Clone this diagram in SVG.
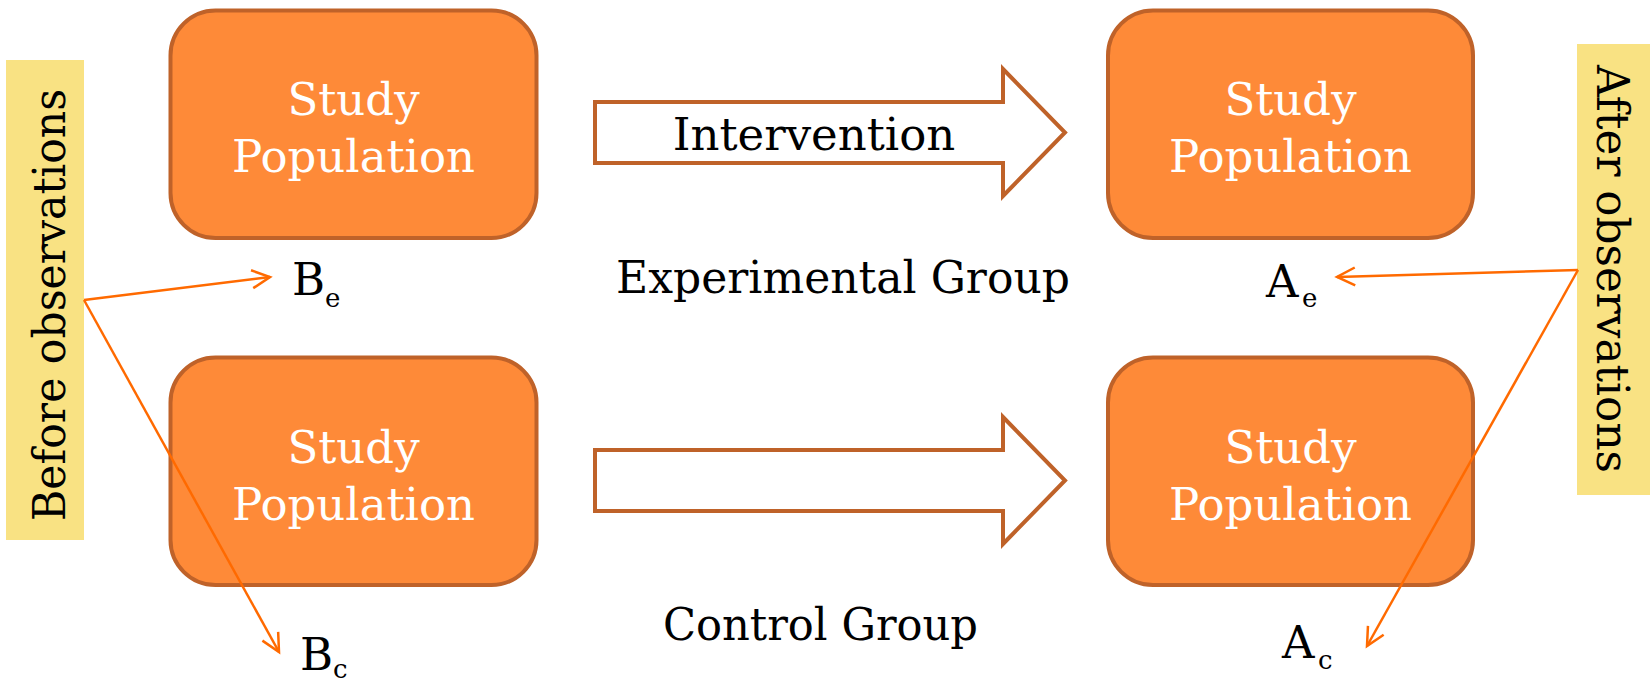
<svg xmlns="http://www.w3.org/2000/svg" width="1650" height="684" viewBox="0 0 1650 684">
  <style>
    .box { fill: #FE8A38; stroke: #BF6229; stroke-width: 4; }
    .band { fill: #F9E283; }
    .block { fill: #FFFFFF; stroke: #BF6229; stroke-width: 4; stroke-linejoin: miter; }
    .thin { fill: none; stroke: #FF6A00; stroke-width: 2.5; }
    .t { font-family: "DejaVu Serif", "Liberation Serif", serif; font-size: 45px; fill: #000000; }
    .w { fill: #FFFFFF; text-anchor: middle; }
    .sub { font-size: 26px; }
  </style>
  <defs>
    <marker id="open" markerUnits="userSpaceOnUse" viewBox="-22 -12 26 24" refX="0" refY="0" markerWidth="26" markerHeight="24" orient="auto">
      <path d="M-18,-9 L0,0 L-18,9" fill="none" stroke="#FF6A00" stroke-width="2.5"/>
    </marker>
  </defs>
  <rect width="1650" height="684" fill="#FFFFFF"/>

  <g id="before-band">
    <rect class="band" x="6" y="60" width="78" height="480"/>
    <text class="t" transform="translate(65,305) rotate(-90)" text-anchor="middle" textLength="432" lengthAdjust="spacingAndGlyphs">Before observations</text>
  </g>
  <g id="after-band">
    <rect class="band" x="1577" y="44" width="73" height="451"/>
    <text class="t" transform="translate(1597,269) rotate(90)" text-anchor="middle" textLength="408" lengthAdjust="spacingAndGlyphs">After observations</text>
  </g>

  <g id="intervention-arrows">
    <path class="block" d="M595,102 H1003 V69 L1065,132.5 L1003,196 V163 H595 Z"/>
    <path class="block" d="M595,450 H1003 V417 L1065,480.5 L1003,544 V511 H595 Z"/>
    <text class="t" x="814" y="150" text-anchor="middle">Intervention</text>
  </g>

  <g id="exp-before">
    <rect class="box" x="170.5" y="10.5" width="366" height="227.5" rx="45"/>
    <text class="t w" x="353.5" y="115">Study</text>
    <text class="t w" x="353.5" y="172">Population</text>
  </g>
  <g id="exp-after">
    <rect class="box" x="1108" y="10.5" width="365" height="227.5" rx="45"/>
    <text class="t w" x="1290.5" y="115">Study</text>
    <text class="t w" x="1290.5" y="172">Population</text>
  </g>
  <g id="ctl-before">
    <rect class="box" x="170.5" y="357.5" width="366" height="227.5" rx="45"/>
    <text class="t w" x="353.5" y="463">Study</text>
    <text class="t w" x="353.5" y="520">Population</text>
  </g>
  <g id="ctl-after">
    <rect class="box" x="1108" y="357.5" width="365" height="227.5" rx="45"/>
    <text class="t w" x="1290.5" y="463">Study</text>
    <text class="t w" x="1290.5" y="520">Population</text>
  </g>

  <g id="connectors">
    <line class="thin" x1="84" y1="300" x2="270" y2="277" marker-end="url(#open)"/>
    <line class="thin" x1="84" y1="300" x2="279" y2="652" marker-end="url(#open)"/>
    <line class="thin" x1="1578" y1="270" x2="1337" y2="277" marker-end="url(#open)"/>
    <line class="thin" x1="1578" y1="270" x2="1367" y2="646" marker-end="url(#open)"/>
  </g>

  <g id="labels">
    <text class="t" x="843" y="293" text-anchor="middle" textLength="454" lengthAdjust="spacingAndGlyphs">Experimental Group</text>
    <text class="t" x="820.5" y="640" text-anchor="middle" textLength="315" lengthAdjust="spacingAndGlyphs">Control Group</text>
    <text class="t" x="292" y="295">B<tspan class="sub" x="325" y="307">e</tspan></text>
    <text class="t" x="300" y="670">B<tspan class="sub" x="333" y="678">c</tspan></text>
    <text class="t" x="1266" y="297">A<tspan class="sub" x="1302" y="307">e</tspan></text>
    <text class="t" x="1282" y="658">A<tspan class="sub" x="1318" y="669">c</tspan></text>
  </g>
</svg>
